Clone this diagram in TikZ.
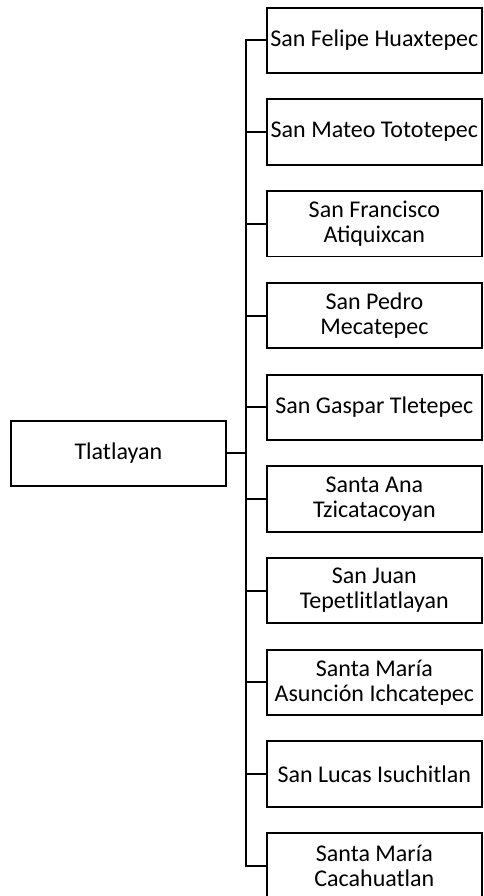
\documentclass[tikz,border=0pt]{standalone}
\usepackage{fontspec}
\setmainfont{Carlito}
\begin{document}
\begin{tikzpicture}[x=1pt,y=-1pt,
  box/.style={draw=black, line width=1.9pt, fill=white, minimum width=214.7pt, minimum height=65.3pt,
    inner sep=0pt, align=center, font=\fontsize{24}{25}\selectfont},
  conn/.style={draw=black, line width=2pt}]
\useasboundingbox (0,0) rectangle (483,896);
\begin{scope}
\clip (0,0) rectangle (483,896);
\node[box] (tl) at (118.35,453.3) {Tlatlayan};
\node[box] (b1) at (374.35,40.4) {San Felipe Huaxtepec};
\node[box] (b2) at (374.35,132.1) {San Mateo Tototepec};
\node[box] (b3) at (374.35,223.8) {San Francisco\\Atiquixcan};
\node[box] (b4) at (374.35,315.5) {San Pedro\\Mecatepec};
\node[box] (b5) at (374.35,407.2) {San Gaspar Tletepec};
\node[box] (b6) at (374.35,498.9) {Santa Ana\\Tzicatacoyan};
\node[box] (b7) at (374.35,590.6) {San Juan\\Tepetlitlatlayan};
\node[box] (b8) at (374.35,682.3) {Santa María\\Asunción Ichcatepec};
\node[box] (b9) at (374.35,774.0) {San Lucas Isuchitlan};
\node[box] (b10) at (374.35,865.7) {Santa María\\Cacahuatlan};
\coordinate (j) at (246.3,453.3);
\coordinate (jt) at (j |- b1.west);
\coordinate (jb) at (j |- b10.west);
\draw[conn] (tl.east) -- (j);
\draw[conn, line cap=rect] (jt) -- (jb);
\foreach \b in {b1,b2,b3,b4,b5,b6,b7,b8,b9,b10}
  \draw[conn] (j |- \b.west) -- (\b.west);
\end{scope}
\end{tikzpicture}
\end{document}
